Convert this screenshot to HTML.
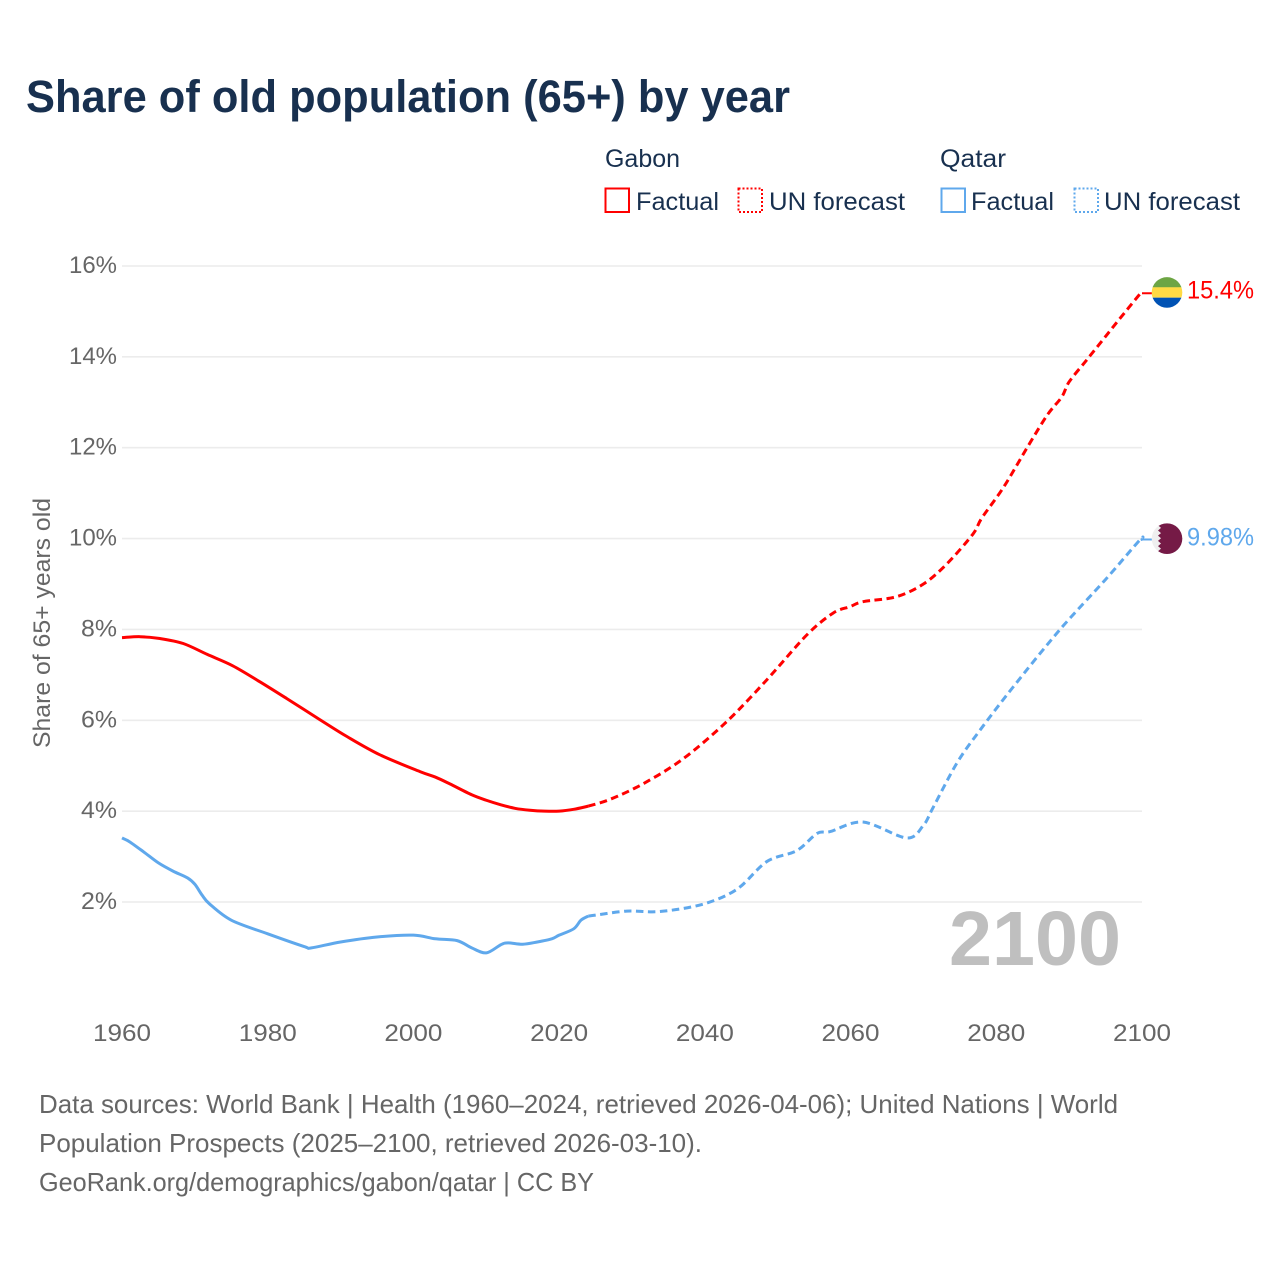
<!DOCTYPE html>
<html lang="en">
<head>
<meta charset="utf-8">
<title>Share of old population (65+) by year</title>
<style>
html,body{margin:0;padding:0;background:#fff;}
svg{display:block;font-family:"Liberation Sans",Arial,sans-serif;}
</style>
</head>
<body>
<svg id="chart" xmlns="http://www.w3.org/2000/svg" width="1280" height="1280" viewBox="0 0 1280 1280">
  <defs>
    <clipPath id="flag-clip-gabon"><circle cx="0" cy="0" r="15.3"/></clipPath>
    <clipPath id="flag-clip-qatar"><circle cx="0" cy="0" r="15.3"/></clipPath>
  </defs>
  <rect width="1280" height="1280" fill="#fff"/>
  <text x="26" y="112" font-size="45" font-weight="700" fill="#18304f" textLength="764" lengthAdjust="spacingAndGlyphs">Share of old population (65+) by year</text>

  <g font-size="25" fill="#18304f">
    <text x="605" y="167" textLength="75" lengthAdjust="spacingAndGlyphs">Gabon</text>
    <rect x="605.5" y="188.5" width="23.5" height="23.5" fill="none" stroke="#ff0000" stroke-width="2"/>
    <text x="636" y="210" textLength="83" lengthAdjust="spacingAndGlyphs">Factual</text>
    <rect x="738.5" y="188.5" width="23.5" height="23.5" fill="none" stroke="#ff0000" stroke-width="2" stroke-dasharray="2 2"/>
    <text x="769" y="210" textLength="136" lengthAdjust="spacingAndGlyphs">UN forecast</text>
    <text x="940" y="167" textLength="66" lengthAdjust="spacingAndGlyphs">Qatar</text>
    <rect x="941.5" y="188.5" width="23.5" height="23.5" fill="none" stroke="#5fa8ec" stroke-width="2"/>
    <text x="971" y="210" textLength="83" lengthAdjust="spacingAndGlyphs">Factual</text>
    <rect x="1074.5" y="188.5" width="23.5" height="23.5" fill="none" stroke="#5fa8ec" stroke-width="2" stroke-dasharray="2 2"/>
    <text x="1104" y="210" textLength="136" lengthAdjust="spacingAndGlyphs">UN forecast</text>
  </g>

  <g id="grid"></g>
  <g id="y-ticks" font-size="24" fill="#666"></g>
  <g id="x-ticks" font-size="24" fill="#666"></g>
  <text transform="translate(50,623) rotate(-90)" text-anchor="middle" font-size="24" fill="#666" textLength="250" lengthAdjust="spacingAndGlyphs">Share of 65+ years old</text>
  <text x="949" y="965" font-size="77" font-weight="700" fill="#bfbfbf" textLength="172" lengthAdjust="spacingAndGlyphs">2100</text>

  <g id="series"></g>
  <g id="end-markers"></g>

  <g font-size="26" fill="#666">
    <text x="39" y="1113" textLength="1079" lengthAdjust="spacingAndGlyphs">Data sources: World Bank | Health (1960–2024, retrieved 2026-04-06); United Nations | World</text>
    <text x="39" y="1152" textLength="663" lengthAdjust="spacingAndGlyphs">Population Prospects (2025–2100, retrieved 2026-03-10).</text>
    <text x="39" y="1191" textLength="555" lengthAdjust="spacingAndGlyphs">GeoRank.org/demographics/gabon/qatar | CC BY</text>
  </g>
</svg>
<script>
const yTickValues = [2, 4, 6, 8, 10, 12, 14, 16];
const xTickValues = [1960, 1980, 2000, 2020, 2040, 2060, 2080, 2100];

const gabonFactualYears = [1960,1962.5,1965.2,1968.4,1971.7,1975.2,1978.9,1982.6,1987.2,1990.9,1995.4,2000.9,2003,2005,2008,2010,2012,2014,2016,2018,2020,2022,2024];
const gabonFactualValues = [7.82,7.84,7.80,7.69,7.45,7.20,6.85,6.48,6.01,5.64,5.24,4.87,4.75,4.60,4.36,4.24,4.14,4.06,4.02,4.00,4.00,4.04,4.11];
const gabonForecastYears = [2024,2027,2031.5,2037,2043,2048.5,2054,2057.6,2059.9,2061.7,2066.3,2070,2073.2,2076.8,2078,2081,2084.3,2087,2089,2090,2092.4,2095,2097,2099.7,2100];
const gabonForecastValues = [4.11,4.26,4.60,5.15,5.97,6.89,7.88,8.36,8.50,8.61,8.72,9.00,9.44,10.10,10.45,11.13,12.02,12.72,13.12,13.45,13.93,14.45,14.85,15.38,15.40];

const qatarFactualYears = [1960,1961,1963,1965,1967,1969,1970,1971,1972,1975,1980,1985,1986,1990,1995,2000,2003,2006,2008,2010,2012,2013,2015,2017,2019,2020,2022,2023,2024];
const qatarFactualValues = [3.41,3.33,3.10,2.86,2.68,2.53,2.39,2.15,1.96,1.60,1.30,1.02,0.99,1.12,1.23,1.27,1.19,1.15,0.99,0.88,1.06,1.10,1.07,1.12,1.19,1.27,1.41,1.60,1.69];
const qatarForecastYears = [2024,2025,2029.3,2033.8,2039.7,2044.4,2048.5,2052.6,2055.4,2057.2,2061.7,2067.7,2070,2071.3,2074.6,2077.8,2082.3,2088.7,2095,2099.7,2100];
const qatarForecastValues = [1.69,1.71,1.80,1.79,1.95,2.28,2.89,3.13,3.51,3.55,3.76,3.41,3.69,4.07,5.06,5.79,6.73,7.99,9.10,9.97,9.98];

const gabonEndLabel = "15.4%";
const qatarEndLabel = "9.98%";

const SVGNS = "http://www.w3.org/2000/svg";
function xScale(year) { return 122 + (year - 1960) * (1142 - 122) / 140; }
function yScale(value) { return 902 - (value - 2) * (902 - 266) / 14; }
function make(tag, attrs, parent) {
  const el = document.createElementNS(SVGNS, tag);
  for (const k in attrs) el.setAttribute(k, attrs[k]);
  parent.appendChild(el);
  return el;
}
function smoothPath(xs, ys) {
  const pts = xs.map((x, i) => [xScale(x), yScale(ys[i])]);
  let d = "M" + pts[0][0].toFixed(2) + " " + pts[0][1].toFixed(2);
  for (let i = 0; i < pts.length - 1; i++) {
    const p0 = pts[Math.max(0, i - 1)], p1 = pts[i], p2 = pts[i + 1], p3 = pts[Math.min(pts.length - 1, i + 2)];
    const t = 0.16;
    const c1x = p1[0] + (p2[0] - p0[0]) * t, c1y = p1[1] + (p2[1] - p0[1]) * t;
    const c2x = p2[0] - (p3[0] - p1[0]) * t, c2y = p2[1] - (p3[1] - p1[1]) * t;
    d += "C" + c1x.toFixed(2) + " " + c1y.toFixed(2) + " " + c2x.toFixed(2) + " " + c2y.toFixed(2) + " " + p2[0].toFixed(2) + " " + p2[1].toFixed(2);
  }
  return d;
}

const gridGroup = document.getElementById("grid");
const yTickGroup = document.getElementById("y-ticks");
yTickValues.forEach(function (v) {
  const line = make("line", { x1: 122, x2: 1142, y1: yScale(v), y2: yScale(v), stroke: "#ececec", "stroke-width": 1.6 }, gridGroup);
  
  
  const label = make("text", { x: 117, y: yScale(v) + 7, "text-anchor": "end", textLength: v >= 10 ? 48 : 36, lengthAdjust: "spacingAndGlyphs" }, yTickGroup);
  
  
  label.textContent = v + "%";
});

const xTickGroup = document.getElementById("x-ticks");
xTickValues.forEach(function (y) {
  const label = make("text", { x: xScale(y), y: 1041, "text-anchor": "middle", textLength: 58, lengthAdjust: "spacingAndGlyphs" }, xTickGroup);
  
  
  label.textContent = y;
});

const seriesGroup = document.getElementById("series");
const gabonFactualLine = make("path", { d: smoothPath(gabonFactualYears, gabonFactualValues), fill: "none", stroke: "#ff0000", "stroke-width": 3, "stroke-linejoin": "round" }, seriesGroup);


const gabonForecastLine = make("path", { d: smoothPath(gabonForecastYears, gabonForecastValues), fill: "none", stroke: "#ff0000", "stroke-width": 3, "stroke-dasharray": "7.5 4.5" }, seriesGroup);


const qatarFactualLine = make("path", { d: smoothPath(qatarFactualYears, qatarFactualValues), fill: "none", stroke: "#5fa8ec", "stroke-width": 3, "stroke-linejoin": "round" }, seriesGroup);


const qatarForecastLine = make("path", { d: smoothPath(qatarForecastYears, qatarForecastValues), fill: "none", stroke: "#5fa8ec", "stroke-width": 3, "stroke-dasharray": "7.5 4.5" }, seriesGroup);



const markers = document.getElementById("end-markers");
const gabonLastValue = gabonForecastValues[gabonForecastValues.length - 1];
const qatarLastValue = qatarForecastValues[qatarForecastValues.length - 1];
const gabonY = yScale(gabonLastValue);
const qatarY = yScale(qatarLastValue);

const gabonConnector = make("line", { x1: xScale(2100), x2: 1152, y1: gabonY, y2: gabonY, stroke: "#ff0000", "stroke-width": 2 }, markers);


const qatarConnector = make("line", { x1: xScale(2100), x2: 1152, y1: qatarY, y2: qatarY, stroke: "#5fa8ec", "stroke-width": 2 }, markers);



const gabonFlag = make("g", { transform: "translate(1167," + (gabonY - 0.8) + ")", "clip-path": "url(#flag-clip-gabon)" }, markers);


make("rect", { x: -16, y: -16, width: 32, height: 11, fill: "#6da544" }, gabonFlag);
make("rect", { x: -16, y: -5.2, width: 32, height: 10.4, fill: "#ffda44" }, gabonFlag);
make("rect", { x: -16, y: 5.2, width: 32, height: 11, fill: "#0052b4" }, gabonFlag);

const qatarFlag = make("g", { transform: "translate(1167," + (qatarY - 0.8) + ")", "clip-path": "url(#flag-clip-qatar)" }, markers);


make("rect", { x: -16, y: -16, width: 32, height: 32, fill: "#efefef" }, qatarFlag);
make("polygon", { points: "-6,-16 -9,-13.4 -6,-10.8 -9,-8.2 -6,-5.6 -9,-3 -6,-0.4 -9,2.2 -6,4.8 -9,7.4 -6,10 -9,12.6 -6,16 16,16 16,-16", fill: "#751a46" }, qatarFlag);

const gabonLabel = make("text", { x: 1187, y: gabonY + 5, "font-size": 25, fill: "#ff0000", textLength: 67, lengthAdjust: "spacingAndGlyphs" }, markers);


gabonLabel.textContent = gabonEndLabel;
const qatarLabel = make("text", { x: 1187, y: qatarY + 6, "font-size": 25, fill: "#5fa8ec", textLength: 67, lengthAdjust: "spacingAndGlyphs" }, markers);


qatarLabel.textContent = qatarEndLabel;
</script>
</body>
</html>
